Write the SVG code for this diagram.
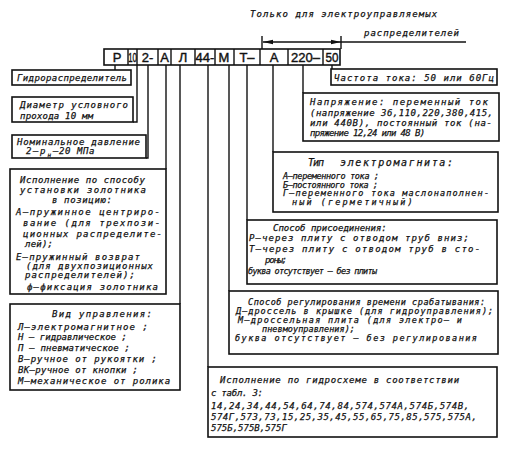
<svg xmlns="http://www.w3.org/2000/svg" width="512" height="456" viewBox="0 0 512 456">
<defs>
<style>
.t{font-family:"DejaVu Sans Mono","Liberation Mono",monospace;font-style:italic;font-size:9px;fill:#111;stroke:#111;stroke-width:0.25;}
.s{font-size:8.5px;}
.h{font-family:"Liberation Sans","DejaVu Sans",sans-serif;font-size:13px;fill:#111;stroke:#111;stroke-width:0.4;text-anchor:middle;}
.box{fill:#fff;stroke:#111;stroke-width:1.6;}
.c{fill:none;stroke:#111;stroke-width:1.4;}
</style>
<marker id="ar" viewBox="0 0 10 6" refX="10" refY="3" markerWidth="10" markerHeight="6" markerUnits="userSpaceOnUse" orient="auto-start-reverse">
<path d="M0,0.8 L10,3 L0,5.2 Z" fill="#111"/>
</marker>
</defs>
<rect width="512" height="456" fill="#fff"/>

<g id="header-note">
<text class="t" x="250" y="17" letter-spacing="1.07">Только для электроуправляемых</text>
<text class="t" x="364" y="36" letter-spacing="0.98">распределителей</text>
<path class="c" d="M262,36 V49 M341,36 V49" stroke-width="1.1"/>
<path class="c" d="M341,42 H466" stroke-width="1.1"/>
<path class="c" d="M263,42 H341" stroke-width="1.1" marker-start="url(#ar)" marker-end="url(#ar)"/>
</g>

<g id="code-row">
<rect class="box" x="104" y="49" width="236" height="16"/>
<path class="c" d="M128,49 V65 M137,49 V65 M158,49 V65 M171,49 V65 M195,49 V65 M215,49 V65 M234,49 V65 M260,49 V65 M288,49 V65 M323,49 V65"/>
<text class="h" x="117" y="62">Р</text>
<text class="h" transform="translate(132.5,62) scale(0.6,1)">10</text>
<text class="h" x="147.5" y="62">2-</text>
<text class="h" x="164.5" y="62">А</text>
<text class="h" x="183" y="62">Л</text>
<text class="h" x="205" y="62">44-</text>
<text class="h" x="224" y="62">М</text>
<text class="h" x="247" y="62">Т–</text>
<text class="h" x="274" y="62">А</text>
<text class="h" x="305.5" y="62">220–</text>
<text class="h" transform="translate(332,62) scale(0.9,1)">50</text>
</g>

<g id="connectors">
<path class="c" d="M115,65 V70"/>
<path class="c" d="M137,65 V122 H133"/>
<path class="c" d="M148,65 V158 H146"/>
<path class="c" d="M166,65 V169"/>
<path class="c" d="M180,65 V304"/>
<path class="c" d="M208,65 V367"/>
<path class="c" d="M229,65 V291"/>
<path class="c" d="M247,65 V220"/>
<path class="c" d="M273,65 V152"/>
<path class="c" d="M303,65 V93"/>
<path class="c" d="M332,65 V69"/>
</g>

<g id="n-gidro">
<rect class="box" x="12" y="70" width="119" height="15"/>
<text class="t" x="17" y="81" letter-spacing="0.39">Гидрораспределитель</text>
</g>

<g id="n-diam">
<rect class="box" x="12" y="97" width="121" height="25"/>
<text class="t" x="20" y="108" letter-spacing="0.99">Диаметр условного</text>
<text class="t" x="20" y="119" letter-spacing="0.22">прохода 10 мм</text>
</g>

<g id="n-davl">
<rect class="box" x="12" y="135" width="134" height="23"/>
<text class="t" x="17" y="145" letter-spacing="0.77">Номинальное давление</text>
<text class="t" x="26" y="154" letter-spacing="1.6">2–р</text>
<text class="t" x="47.5" y="156.5" style="font-size:6px">н</text>
<text class="t" x="53" y="154" letter-spacing="0.6">–20 МПа</text>
</g>

<g id="n-ustanovka">
<rect class="box" x="10" y="169" width="156" height="125"/>
<text class="t" x="20" y="183" letter-spacing="0.56">Исполнение по способу</text>
<text class="t" x="20" y="193" letter-spacing="1.28">установки золотника</text>
<text class="t" x="52" y="203" letter-spacing="0.64">в позицию:</text>
<text class="t" x="16" y="215" letter-spacing="1.51">А–пружинное центриро-</text>
<text class="t" x="23" y="226" letter-spacing="1.51">вание (для трехпози-</text>
<text class="t" x="23" y="237" letter-spacing="1.26">ционных распределите-</text>
<text class="t" x="25" y="247" letter-spacing="0.23">лей);</text>
<text class="t" x="16" y="260" letter-spacing="1.17">Е–пружинный возврат</text>
<text class="t" x="26" y="269" letter-spacing="0.98">(для двухпозиционных</text>
<text class="t" x="25" y="278" letter-spacing="1.12">распределителей);</text>
<text class="t" x="27" y="290" letter-spacing="1.19">ф–фиксация золотника</text>
</g>

<g id="n-upravlenie">
<rect class="box" x="10" y="304" width="170" height="86"/>
<text class="t" x="52" y="317" letter-spacing="1.34">Вид управления:</text>
<text class="t" x="18" y="330" letter-spacing="1.14">Л–электромагнитное ;</text>
<text class="t" x="18" y="340" letter-spacing="0.03">Н – гидравлическое ;</text>
<text class="t" x="18" y="351" letter-spacing="0.19">П – пневматическое ;</text>
<text class="t" x="18" y="362" letter-spacing="0.94">В–ручное от рукоятки ;</text>
<text class="t" x="18" y="373" letter-spacing="0.31">ВК–ручное от кнопки ;</text>
<text class="t" x="18" y="384" letter-spacing="0.96">М–механическое от ролика</text>
</g>

<g id="n-gidroshema">
<rect class="box" x="208" y="367" width="289" height="70"/>
<text class="t" x="220" y="383" letter-spacing="0.73">Исполнение по гидросхеме в соответствии</text>
<text class="t" x="211" y="396" letter-spacing="-0.24">с табл. 3:</text>
<text class="t" x="211" y="409" letter-spacing="0.6">14,24,34,44,54,64,74,84,574,574А,574Б,574В,</text>
<text class="t" x="211" y="420" letter-spacing="0.5">574Г,573,73,15,25,35,45,55,65,75,85,575,575А,</text>
<text class="t" x="211" y="431" letter-spacing="0">575Б,575В,575Г</text>
</g>

<g id="n-regulirovanie">
<rect class="box" x="229" y="291" width="269" height="63"/>
<text class="t s" x="248" y="305" letter-spacing="0.54">Способ регулирования времени срабатывания:</text>
<text class="t s" x="236" y="314" letter-spacing="1.03">Д–дроссель в крышке (для гидроуправления);</text>
<text class="t s" x="238" y="323" letter-spacing="1.32">М–дроссельная плита (для электро– и</text>
<text class="t s" x="262" y="332" letter-spacing="0.05">пневмоуправления);</text>
<text class="t s" x="235" y="341" letter-spacing="1.46">буква отсутствует – без регулирования</text>
</g>

<g id="n-prisoedinenie">
<rect class="box" x="247" y="220" width="250" height="64"/>
<text class="t" x="273" y="231" letter-spacing="0">Способ присоединения:</text>
<text class="t" x="249" y="241" letter-spacing="1.08">Р–через плиту с отводом труб вниз;</text>
<text class="t" x="249" y="252" letter-spacing="1.22">Т–через плиту с отводом труб в сто-</text>
<text class="t" x="265" y="263" letter-spacing="-1.2">роны;</text>
<text class="t s" x="248" y="274" letter-spacing="-0.69">буква отсутствует – без плиты</text>
</g>

<g id="n-elektromagnit">
<rect class="box" x="273" y="152" width="225" height="60"/>
<text class="t" x="308" y="166" style="font-size:10px" letter-spacing="-1">Тип</text>
<text class="t" x="340" y="166" style="font-size:10px" letter-spacing="1.62">электромагнита:</text>
<text class="t s" x="283" y="179" letter-spacing="-0.33">А–переменного тока ;</text>
<text class="t s" x="283" y="187.5" letter-spacing="-0.38">Б–постоянного тока ;</text>
<text class="t s" x="283" y="196" letter-spacing="1.16">Г–переменного тока маслонаполнен-</text>
<text class="t s" x="292" y="204.5" letter-spacing="2.1">ный (герметичный)</text>
</g>

<g id="n-napryazhenie">
<rect class="box" x="303" y="93" width="196" height="48"/>
<text class="t" x="310" y="105" letter-spacing="1.48">Напряжение: переменный ток</text>
<text class="t" x="310" y="116" letter-spacing="0.5">(напряжение 36,110,220,380,415,</text>
<text class="t" x="310" y="126" letter-spacing="0.67">или 440В), постоянный ток (на-</text>
<text class="t" x="310" y="136" letter-spacing="-0.65">пряжение 12,24 или 48 В)</text>
</g>

<g id="n-chastota">
<rect class="box" x="331" y="69" width="166" height="16"/>
<text class="t" x="334" y="81" letter-spacing="1.02">Частота тока: 50 или 60Гц</text>
</g>
</svg>
